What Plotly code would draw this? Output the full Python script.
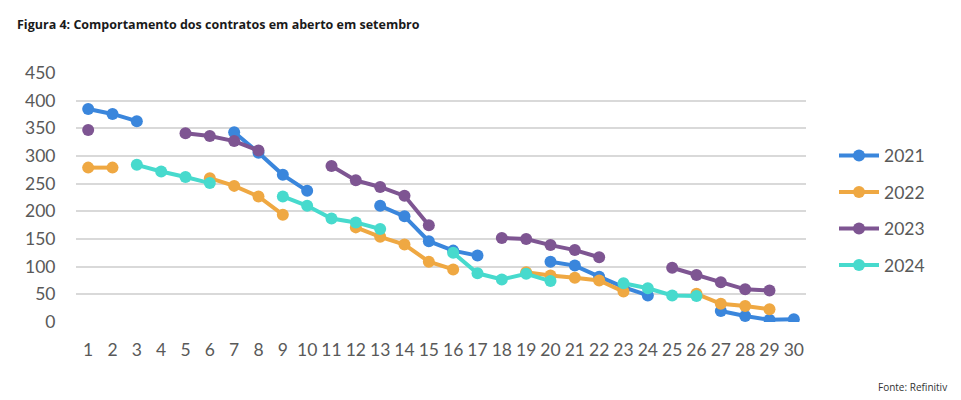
import plotly.graph_objects as go

days = list(range(1, 31))
v2021 = [385, 376, 363, None, None, None, 343, 306, 266, 237, None, None, 210, 191, 146,
         129, 120, None, None, 109, 102, 82, 63, 48, None, None, 20, 11, 4, 5]
v2022 = [279, 279, None, None, None, 260, 246, 227, 194, None, None, 171, 154, 140, 109,
         95, None, None, 90, 84, 80, 75, 55, None, None, 51, 33, 29, 23, None]
v2023 = [347, None, None, None, 341, 336, 327, 310, None, None, 282, 256, 244, 228, 175,
         None, None, 152, 150, 139, 130, 117, None, None, 98, 85, 72, 59, 57, None]
v2024 = [None, None, 284, 272, 262, 251, None, None, 227, 210, 187, 180, 168, None, None,
         125, 88, 77, 87, 74, None, None, 70, 61, 48, 47, None, None, None, None]

series = [("2021", v2021, "#3A86DC"), ("2022", v2022, "#EFA842"),
          ("2023", v2023, "#7E5592"), ("2024", v2024, "#47DACD")]

fig = go.Figure()
for name, vals, col in series:
    fig.add_trace(go.Scatter(x=days, y=vals, name=name, mode="lines+markers",
                             legendgroup=name,
                             line=dict(color=col, width=4),
                             marker=dict(color=col, size=12),
                             connectgaps=False))

tickfont = dict(family="Lato", size=17.5, color="#595959")
fig.update_layout(
    width=961, height=400,
    margin=dict(l=76, r=155, t=73, b=78, autoexpand=False),
    paper_bgcolor="white", plot_bgcolor="white",
    showlegend=True,
    legend=dict(x=(834 - 76) / 730, y=0.74, xanchor="left", yanchor="top",
                font=dict(family="Lato", size=17.5, color="#595959"),
                tracegroupgap=10.7, itemwidth=40),
    xaxis=dict(range=[0.5, 30.5], tickmode="array", tickvals=days,
               ticktext=[str(d) for d in days], showgrid=False, zeroline=False,
               showline=False, ticks="outside", ticklen=12, tickcolor="rgba(0,0,0,0)",
               tickfont=tickfont),
    yaxis=dict(range=[0, 450], tickmode="array", tickvals=list(range(0, 451, 50)),
               showgrid=True, gridcolor="#D9D9D9", gridwidth=1.5, zeroline=False,
               showline=False, ticks="outside", ticklen=16, tickcolor="rgba(0,0,0,0)",
               tickfont=tickfont),
    annotations=[
        dict(text="<b>Figura 4: Comportamento dos contratos em aberto em setembro</b>",
             xref="paper", yref="paper", x=(15 - 76) / 730, y=1 + (73 - 24) / 249,
             xanchor="left", yanchor="middle", showarrow=False,
             font=dict(family="Open Sans", size=12.5, color="#1a1a1a")),
        dict(text="Fonte: Refinitiv", xref="paper", yref="paper",
             x=(949 - 76) / 730, y=-(387 - 322) / 249, xanchor="right", yanchor="middle",
             showarrow=False, font=dict(family="Open Sans", size=10, color="#333333")),
    ],
)

fig.write_html("out.html")
